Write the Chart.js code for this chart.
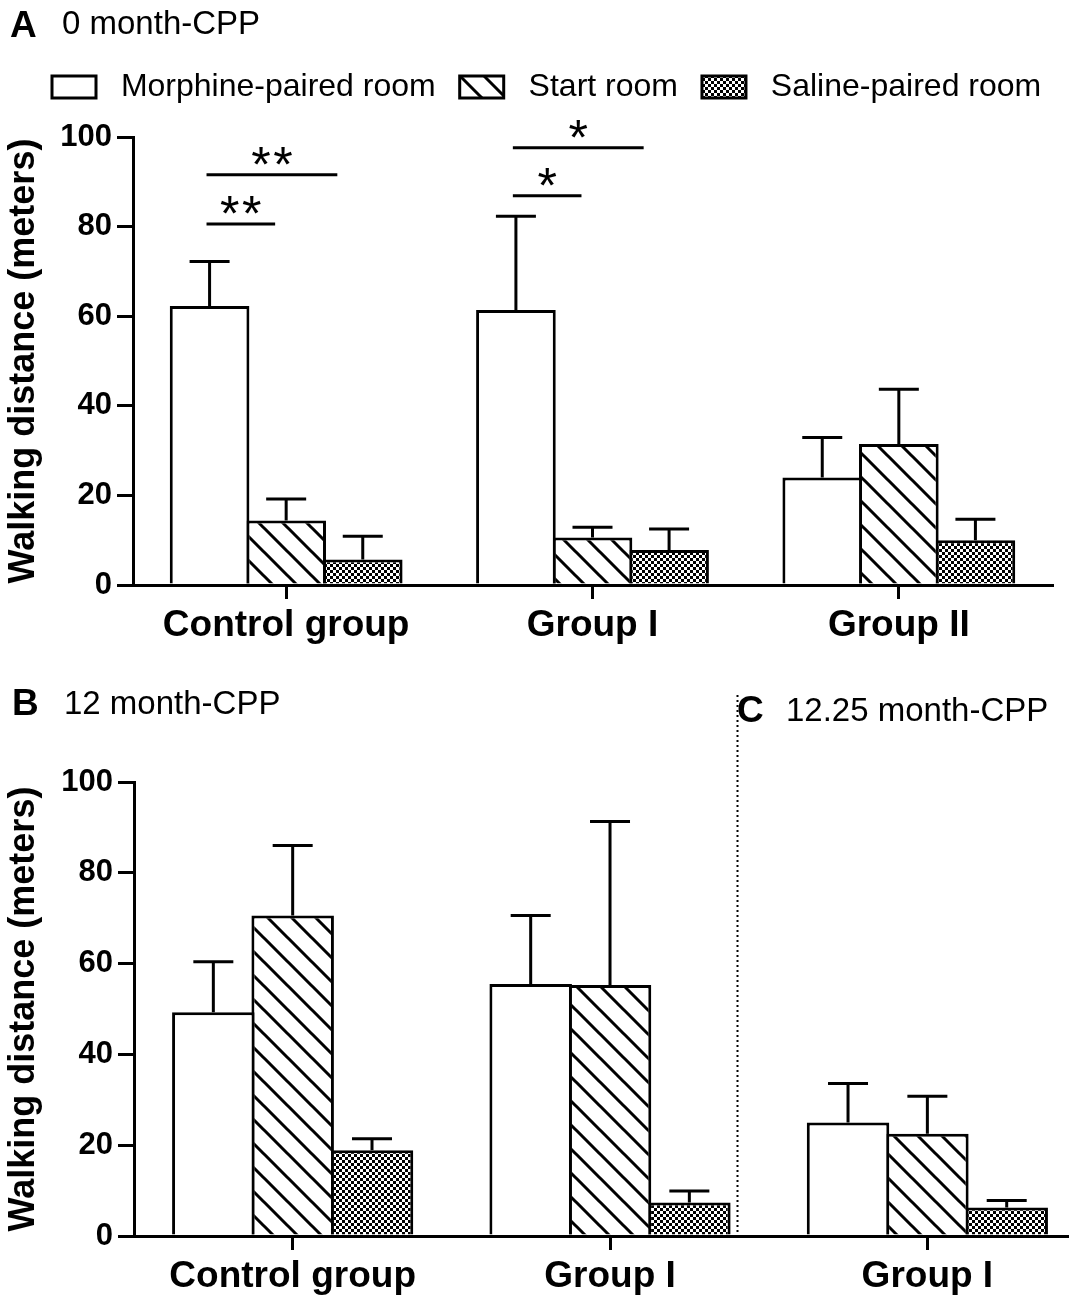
<!DOCTYPE html>
<html><head><meta charset="utf-8">
<script src="https://cdn.jsdelivr.net/npm/chart.js@4.4.1/dist/chart.umd.min.js"></script>
<style>
html,body{margin:0;padding:0;background:#fff;overflow:hidden}
#wrap{position:relative;width:1074px;height:1300px;background:#fff}
canvas{position:absolute;left:0}
.pl{position:absolute;font-family:"Liberation Sans",Arial,sans-serif;color:#000;white-space:nowrap;line-height:1}
</style></head><body>
<div id="wrap">
<canvas id="cA" width="1074" height="650" style="top:0"></canvas>
<canvas id="cB" width="1074" height="650" style="top:650px"></canvas>
<div class="pl" style="left:10px;top:6px;font-size:37px;font-weight:bold">A</div>
<div class="pl" style="left:62px;top:6px;font-size:33px">0 month-CPP</div>
<div class="pl" style="left:12px;top:684px;font-size:37px;font-weight:bold">B</div>
<div class="pl" style="left:64px;top:686px;font-size:33px">12 month-CPP</div>
<div class="pl" style="left:737px;top:691px;font-size:37px;font-weight:bold">C</div>
<div class="pl" style="left:786px;top:693px;font-size:33px">12.25 month-CPP</div>
</div>
<script>
// ---------- data ----------
const seriesNames = ['Morphine-paired room', 'Start room', 'Saline-paired room'];
const yTicks = [0, 20, 40, 60, 80, 100];

// Panel A (0 month-CPP)
const categoriesA = ['Control group', 'Group I', 'Group II'];
const morphineA = [62.3, 61.4, 24.0];
const startA    = [14.4, 10.6, 31.5];
const salineA   = [5.7, 7.8, 10.0];
const morphineErrA = [9.9, 20.9, 8.9];
const startErrA    = [4.8, 2.3, 12.2];
const salineErrA   = [5.2, 4.7, 4.7];

// significance marks in panel A
const sigGroup  = [0, 0, 1, 1];
const sigTo     = [1, 2, 1, 2];     // compared with morphine bar
const sigLevel  = [80.6, 91.6, 86.9, 97.6];
const sigLabel  = ['**', '**', '*', '*'];

// Panels B (12 month-CPP) and C (12.25 month-CPP)
const categoriesB = ['Control group', 'Group I', 'Group I'];
const morphineB = [49.3, 55.5, 25.0];
const startB    = [70.6, 55.3, 22.5];
const salineB   = [18.9, 7.4, 6.3];
const morphineErrB = [11.1, 15.1, 8.6];
const startErrB    = [15.4, 36.0, 8.3];
const salineErrB   = [2.5, 2.5, 1.5];

// ---------- styling ----------
const FF = '"Liberation Sans", Arial, Helvetica, sans-serif';
Chart.defaults.font.family = FF;
Chart.defaults.color = '#000';

function makeHatch() {
  const s = 24, c = document.createElement('canvas');
  c.width = c.height = s;
  const g = c.getContext('2d');
  g.fillStyle = '#fff'; g.fillRect(0, 0, s, s);
  g.strokeStyle = '#000'; g.lineWidth = 3;
  g.beginPath();
  for (const k of [-1, 0, 1]) { g.moveTo(-3, -3 + k * s); g.lineTo(s + 3, s + 3 + k * s); }
  g.stroke();
  return g.createPattern(c, 'repeat');
}
function makeChecks() {
  const s = 6, c = document.createElement('canvas');
  c.width = c.height = s;
  const g = c.getContext('2d');
  g.fillStyle = '#fff'; g.fillRect(0, 0, s, s);
  g.fillStyle = '#000'; g.fillRect(0, 0, 3, 3); g.fillRect(3, 3, 3, 3);
  return g.createPattern(c, 'repeat');
}
const fills = ['#ffffff', makeHatch(), makeChecks()];

function buildDatasets(series, linear) {
  return series.map((vals, i) => ({
    label: seriesNames[i],
    data: linear ? vals.map((v, j) => ({x: j, y: v})) : vals,
    backgroundColor: fills[i],
    borderColor: '#000',
    borderWidth: 3,
    borderSkipped: 'bottom',
    categoryPercentage: 0.75,
    barPercentage: 1.04
  }));
}

function errorBarPlugin(errs) {
  return {
    id: 'errorBars',
    afterDatasetsDraw(chart) {
      const ctx = chart.ctx, ys = chart.scales.y;
      ctx.save();
      ctx.strokeStyle = '#000'; ctx.lineWidth = 3;
      chart.data.datasets.forEach((ds, i) => {
        chart.getDatasetMeta(i).data.forEach((bar, j) => {
          const raw = ds.data[j];
          const v = typeof raw === 'object' ? raw.y : raw;
          const top = ys.getPixelForValue(v + errs[i][j]);
          ctx.beginPath();
          ctx.moveTo(bar.x, bar.y); ctx.lineTo(bar.x, top);
          ctx.moveTo(bar.x - 20, top); ctx.lineTo(bar.x + 20, top);
          ctx.stroke();
        });
      });
      ctx.restore();
    }
  };
}

const yScale = (w, titlePad) => ({
  min: 0, max: 100,
  afterBuildTicks(s) { s.ticks = yTicks.map(v => ({value: v})); },
  ticks: {color: '#000', font: {size: 31, weight: 'bold'}, padding: 5},
  grid: {drawOnChartArea: false, drawTicks: true, tickLength: 16, color: '#000', lineWidth: 3},
  border: {display: true, color: '#000', width: 3},
  title: {display: true, text: 'Walking distance (meters)', color: '#000',
          font: {size: 36, weight: 'bold', lineHeight: 1}, padding: {top: titlePad, bottom: 0}},
  afterFit(s) { s.width = w; }
});
const xGrid = {offset: false, drawOnChartArea: false, drawTicks: true, tickLength: 14, color: '#000', lineWidth: 3};
const xTicks = {color: '#000', font: {size: 37, weight: 'bold'}, padding: 5, maxRotation: 0, autoSkip: false};

// ---------- panel A ----------
const SIG_START = -0.26, SIG_END = [0, -0.036, 0.167];
const sigPlugin = {
  id: 'sigMarks',
  afterDatasetsDraw(chart) {
    const ctx = chart.ctx, xs = chart.scales.x, ys = chart.scales.y;
    const cw = xs.getPixelForValue(1) - xs.getPixelForValue(0);
    ctx.save();
    ctx.strokeStyle = '#000'; ctx.fillStyle = '#000'; ctx.lineWidth = 3;
    ctx.font = '50px ' + FF; ctx.textAlign = 'center'; ctx.textBaseline = 'alphabetic';
    sigGroup.forEach((g, k) => {
      const cx = xs.getPixelForValue(g);
      const x0 = cx + SIG_START * cw, x1 = cx + SIG_END[sigTo[k]] * cw;
      const y = ys.getPixelForValue(sigLevel[k]);
      ctx.beginPath(); ctx.moveTo(x0, y); ctx.lineTo(x1, y); ctx.stroke();
      const n = sigLabel[k].length, mid = (x0 + x1) / 2;
      for (let s = 0; s < n; s++) ctx.fillText('*', mid + (s - (n - 1) / 2) * 22, y + 7);
    });
    ctx.restore();
  }
};

new Chart(document.getElementById('cA'), {
  type: 'bar',
  data: {labels: categoriesA, datasets: buildDatasets([morphineA, startA, salineA], false)},
  options: {
    responsive: false, animation: false, devicePixelRatio: 1,
    layout: {padding: {left: 28, right: 0, top: 47, bottom: 0}},
    plugins: {
      legend: {
        display: true, position: 'top', align: 'start',
        labels: {
          boxWidth: 44, boxHeight: 22, padding: 24, color: '#000', font: {size: 32},
          generateLabels(chart) {
            return Chart.defaults.plugins.legend.labels.generateLabels(chart)
              .map(l => Object.assign(l, {text: ' ' + l.text}));
          }
        }
      },
      subtitle: {display: true, text: ' ', weight: 500, padding: 0, font: {size: 24, lineHeight: 1}},
      tooltip: {enabled: false}
    },
    scales: {
      x: {type: 'category', offset: true, grid: xGrid, ticks: xTicks,
          border: {display: true, color: '#000', width: 3}, afterFit(s) { s.height = 65; }},
      y: yScale(105, -22),
      yRight: {position: 'right', display: true, grid: {display: false}, ticks: {display: false},
               border: {display: false}, afterFit(s) { s.width = 22; }}
    }
  },
  plugins: [errorBarPlugin([morphineErrA, startErrA, salineErrA]), sigPlugin]
});

// ---------- panels B and C ----------
const SEPARATOR_AT = 1.4;
const separatorPlugin = {
  id: 'separator',
  afterDraw(chart) {
    const ctx = chart.ctx, x = Math.round(chart.scales.x.getPixelForValue(SEPARATOR_AT)) + 0.5;
    ctx.save();
    ctx.strokeStyle = '#000'; ctx.lineWidth = 2; ctx.setLineDash([2, 3]);
    ctx.beginPath(); ctx.moveTo(x, chart.chartArea.top - 87); ctx.lineTo(x, chart.chartArea.bottom); ctx.stroke();
    ctx.restore();
  }
};

new Chart(document.getElementById('cB'), {
  type: 'bar',
  data: {datasets: buildDatasets([morphineB, startB, salineB], true)},
  options: {
    responsive: false, animation: false, devicePixelRatio: 1,
    layout: {padding: {left: 24, right: 7, top: 132, bottom: 0}},
    plugins: {legend: {display: false}, tooltip: {enabled: false}},
    scales: {
      x: {type: 'linear', min: -0.5, max: 2.44, offset: false,
          afterBuildTicks(s) { s.ticks = categoriesB.map((_, i) => ({value: i})); },
          ticks: Object.assign({}, xTicks, {callback: (v) => categoriesB[v] !== undefined ? categoriesB[v] : ''}),
          grid: xGrid, border: {display: true, color: '#000', width: 3},
          afterFit(s) { s.height = 64; }},
      y: yScale(110, -18)
    }
  },
  plugins: [errorBarPlugin([morphineErrB, startErrB, salineErrB]), separatorPlugin]
});
</script>
</body></html>
